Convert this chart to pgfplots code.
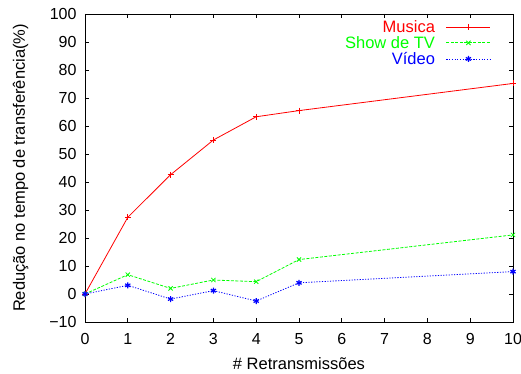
\documentclass[border=0pt]{standalone}
\usepackage{fontspec}
\setmainfont{Liberation Sans}
\usepackage{pgfplots}
\pgfplotsset{compat=1.18}
\begin{document}
\begin{tikzpicture}[font=\fontsize{16.5}{19}\selectfont]
\begin{axis}[
  scale only axis, width=428pt, height=308pt,
  xmin=0, xmax=10, ymin=-10, ymax=100,
  xtick={0,1,...,10}, ytick={-10,0,10,...,100},
  yticklabels={−10,0,10,20,30,40,50,60,70,80,90,100},
  tick align=inside, major tick length=4pt,
  tick style={black, line width=0.8pt},
  axis line style={line width=0.9pt},
  tick label style={font=\fontsize{16}{19}\selectfont},
  label style={font=\fontsize{16.5}{19}\selectfont},
  xticklabel style={yshift=-8pt},
  yticklabel style={xshift=-5pt},
  /pgf/number format/assume math mode=true,
  xlabel={\# Retransmissões},
  ylabel={Redução no tempo de transferência(\%)},
  xlabel style={yshift=-6pt},
  ylabel style={yshift=14pt},
  legend cell align=right,
  legend plot pos=right,
  legend style={at={(rel axis cs:1,1)}, anchor=north east, xshift=-19pt, yshift=-2pt,
    draw=none, fill=none, row sep=-1.5pt, font=\fontsize{16.5}{19}\selectfont},
  legend image code/.code={\path (0pt,0pt); \draw[mark repeat=2,mark phase=2,#1] plot coordinates {(9pt,0pt) (31pt,0pt) (53pt,0pt)};},
]
\addplot[color={rgb,255:red,255;green,0;blue,0}, line width=0.8pt, mark=+, mark size=3pt, mark options={solid}] coordinates {
 (0,0) (1,27.4) (2,42.6) (3,55.0) (4,63.3) (5,65.5) (10,75.2)};
\addlegendentry{\textcolor[RGB]{255,0,0}{Musica}}
\addplot[color={rgb,255:red,0;green,255;blue,0}, line width=0.8pt, dash pattern=on 3pt off 1.5pt, mark=x, mark size=3pt, mark options={solid}] coordinates {
 (0,0) (1,6.9) (2,2.0) (3,5.0) (4,4.4) (5,12.3) (10,21.1)};
\addlegendentry{\textcolor[RGB]{0,255,0}{Show de TV}}
\addplot[color={rgb,255:red,0;green,0;blue,255}, line width=0.8pt, dash pattern=on 1.2pt off 1.5pt, mark=asterisk, mark size=3pt, mark options={solid,line width=1.2pt}] coordinates {
 (0,0) (1,3.1) (2,-1.8) (3,1.2) (4,-2.5) (5,4.0) (10,8.0)};
\addlegendentry{\textcolor[RGB]{0,0,255}{Vídeo}}
\end{axis}
\pgfresetboundingbox
\path ([shift={(-85pt,-52pt)}]current axis.south west) rectangle ([shift={(8pt,14pt)}]current axis.north east);
\end{tikzpicture}
\end{document}
